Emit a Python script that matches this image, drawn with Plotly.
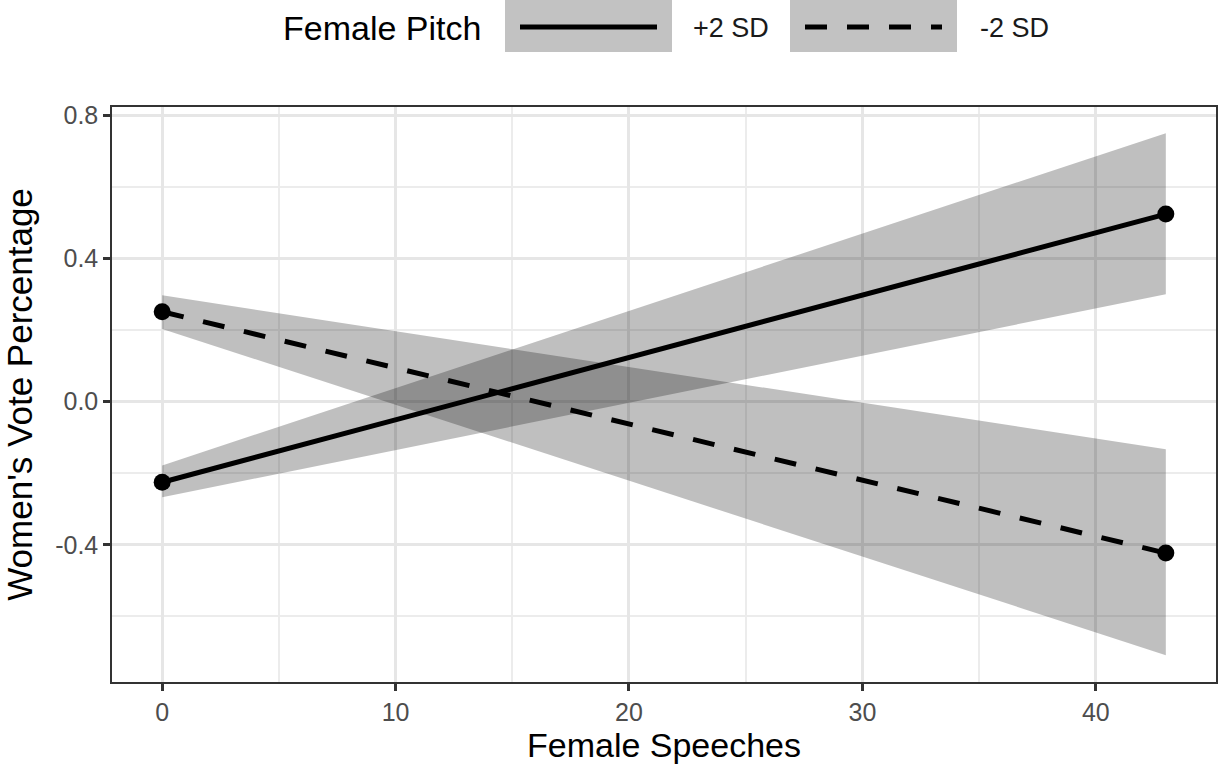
import plotly.graph_objects as go

# ---- data ----
speeches = [0, 43]
plus2_fit = [-0.225, 0.524]
plus2_lo = [-0.267, 0.300]
plus2_hi = [-0.178, 0.750]
minus2_fit = [0.251, -0.423]
minus2_lo = [0.203, -0.708]
minus2_hi = [0.297, -0.133]
series_names = ["+2 SD", "-2 SD"]
x_ticks = [0, 10, 20, 30, 40]
y_ticks = [-0.4, 0.0, 0.4, 0.8]
y_tick_labels = ["-0.4", "0.0", "0.4", "0.8"]

W, H = 1219, 771
L, R, T, B = 112, 3, 107, 89
ribbon_fill = "rgba(0,0,0,0.25)"

fig = go.Figure()

for lo, hi in [(plus2_lo, plus2_hi), (minus2_lo, minus2_hi)]:
    fig.add_trace(go.Scatter(
        x=speeches + speeches[::-1], y=lo + hi[::-1],
        fill="toself", fillcolor=ribbon_fill, line=dict(width=0),
        mode="lines", showlegend=False, hoverinfo="skip"))

for fit, dash in [(plus2_fit, "solid"), (minus2_fit, "22px,20px")]:
    fig.add_trace(go.Scatter(
        x=speeches, y=fit, mode="lines",
        line=dict(color="black", width=5, dash=dash), showlegend=False))
for fit in [plus2_fit, minus2_fit]:
    fig.add_trace(go.Scatter(
        x=speeches, y=fit, mode="markers",
        marker=dict(color="black", size=17), showlegend=False))

pw = W - L - R
ph = H - T - B


def px2paper_x(px):
    return (px - L) / pw


def px2paper_y(py):
    return 1 - (py - T) / ph


shapes = []
annotations = []
# legend (decoration, in paper coords)
annotations.append(dict(text="Female Pitch", x=px2paper_x(281), y=px2paper_y(28),
                        xref="paper", yref="paper", xanchor="left", yanchor="middle",
                        showarrow=False, font=dict(size=34, color="black")))
boxes = [(505, 672, "solid", 691), (790, 957, "dash", 978)]
for (bx0, bx1, dash, tx), name in zip(boxes, series_names):
    shapes.append(dict(type="rect", xref="paper", yref="paper",
                       x0=px2paper_x(bx0), x1=px2paper_x(bx1),
                       y0=px2paper_y(52), y1=px2paper_y(0),
                       fillcolor="#c2c2c2", line=dict(width=0), layer="above"))
    shapes.append(dict(type="line", xref="paper", yref="paper",
                       x0=px2paper_x(bx0 + 15), x1=px2paper_x(bx1 - 15),
                       y0=px2paper_y(27), y1=px2paper_y(27),
                       line=dict(color="black", width=5,
                                 dash="solid" if dash == "solid" else "22px,20px"),
                       layer="above"))
    annotations.append(dict(text=name, x=px2paper_x(tx), y=px2paper_y(28),
                            xref="paper", yref="paper", xanchor="left", yanchor="middle",
                            showarrow=False, font=dict(size=27, color="#1a1a1a")))

fig.update_layout(
    width=W, height=H,
    margin=dict(l=L, r=R, t=T, b=B, autoexpand=False),
    paper_bgcolor="white", plot_bgcolor="white",
    font=dict(family="Liberation Sans, Arial, sans-serif", color="black"),
    shapes=shapes, annotations=annotations,
    showlegend=False,
)
fig.update_xaxes(
    range=[-2.15, 45.15], tickvals=x_ticks, ticks="outside", ticklen=7,
    tickwidth=2.5, tickcolor="#333333", tickfont=dict(size=25, color="#4d4d4d"),
    showgrid=True, gridcolor="#e6e6e6", gridwidth=2.5,
    minor=dict(tickvals=[5, 15, 25, 35], showgrid=True, gridcolor="#ececec",
               gridwidth=1.6, ticks=""),
    showline=True, linecolor="#333333", linewidth=1.5, mirror=True, zeroline=False,
    title=dict(text="Female Speeches", font=dict(size=34, color="black"), standoff=6),
)
fig.update_yaxes(
    range=[-0.783, 0.823], tickvals=y_ticks, ticktext=y_tick_labels, ticks="outside",
    ticklen=7, tickwidth=2.5, tickcolor="#333333", tickfont=dict(size=25, color="#4d4d4d"),
    showgrid=True, gridcolor="#e6e6e6", gridwidth=2.5,
    minor=dict(tickvals=[-0.6, -0.2, 0.2, 0.6], showgrid=True, gridcolor="#ececec",
               gridwidth=1.6, ticks=""),
    showline=True, linecolor="#333333", linewidth=1.5, mirror=True, zeroline=False,
    title=dict(text="Women's Vote Percentage", font=dict(size=35, color="black"), standoff=12),
)

fig.write_html("out.html")
